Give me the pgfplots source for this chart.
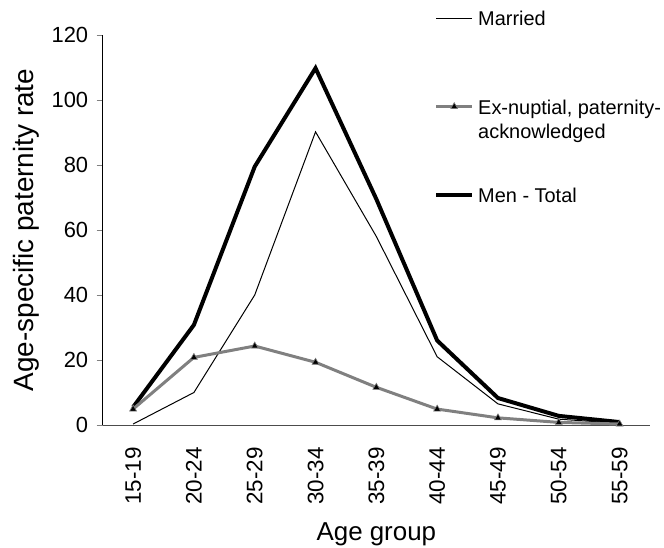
\documentclass[border=0pt]{standalone}
\usepackage{pgfplots}
\pgfplotsset{compat=1.18}
\usepackage{fontspec}
\setmainfont{Liberation Sans}
\definecolor{exgray}{RGB}{128,128,128}
\begin{document}
\begin{tikzpicture}
\begin{axis}[
  scale only axis,
  width=547.3bp, height=390bp,
  xmin=-0.5, xmax=8.5, ymin=0, ymax=120,
  axis x line*=bottom, axis y line*=left,
  axis line style={-},
  x axis line style={draw=black!70},
  xtick={0,...,8},
  xticklabels={15-19,20-24,25-29,30-34,35-39,40-44,45-49,50-54,55-59},
  major x tick style={draw=none},
  x tick label style={rotate=90, anchor=east, font=\fontsize{22.5}{26}\selectfont},
  xticklabel shift=13bp,
  ytick={0,20,...,120},
  tick align=outside, major tick length=6bp,
  y tick label style={font=\fontsize{22}{26}\selectfont, xshift=-5bp},
  /pgf/number format/assume math mode=true,
  xlabel={Age group},
  ylabel={Age-specific paternity rate},
  xlabel style={at={(axis description cs:0.5,0)}, anchor=base, yshift=-115bp, font=\fontsize{26}{30}\selectfont},
  ylabel style={at={(axis description cs:0,0.5)}, rotate=0, anchor=base, yshift=69bp, font=\fontsize{28}{32}\selectfont},
  legend image code/.code={\draw[mark repeat=2,mark phase=2,#1] plot coordinates {(0bp,7.5bp) (18bp,7.5bp) (36bp,7.5bp)};},
  legend style={draw=none, fill=none, inner sep=0pt, at={(axis description cs:0.6054,1.0654)}, anchor=north west,
    cells={anchor=base west}, column sep=4bp, row sep=67.5bp,
    nodes={inner sep=0pt, text height=16bp, text depth=5bp, font=\fontsize{20}{24.5}\selectfont}},
]
\addlegendimage{black, line width=1bp}
\addlegendimage{exgray, line width=3bp, mark=triangle*, mark size=4bp, mark options={fill=black, draw=exgray, line width=0.6bp}}
\addlegendimage{black, line width=4bp}
\legend{Married,{\begin{tabular}[t]{@{}l@{}}Ex-nuptial, paternity-\\acknowledged\end{tabular}},Men - Total}
\addplot[forget plot, black, line width=4bp] coordinates {
(0,5.5) (1,30.8) (2,79.5) (3,109.8) (4,69.5) (5,26) (6,8.3) (7,2.8) (8,0.9)};
\addplot[forget plot, black, line width=1bp] coordinates {
(0,0.3) (1,10) (2,40) (3,90.2) (4,58) (5,21) (6,6.5) (7,1.8) (8,0.5)};
\addplot[forget plot, exgray, line width=3bp, mark=triangle*, mark size=4bp, mark options={fill=black, draw=exgray, line width=0.6bp}] coordinates {
(0,4.9) (1,20.8) (2,24.3) (3,19.3) (4,11.6) (5,4.9) (6,2.2) (7,0.8) (8,0.3)};
\end{axis}
\pgfresetboundingbox
\path[use as bounding box] (-102.7bp,-123bp) rectangle (561.3bp,425bp);
\end{tikzpicture}
\end{document}
